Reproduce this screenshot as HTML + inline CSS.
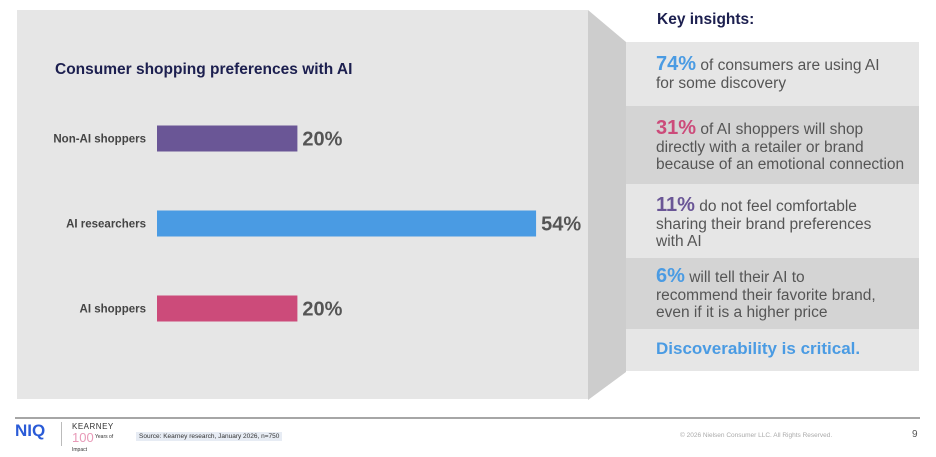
<!DOCTYPE html>
<html><head><meta charset="utf-8"><style>
body{margin:0;width:936px;height:454px;background:#fff;font-family:"Liberation Sans",Arial,sans-serif;position:relative;overflow:hidden}
.abs{position:absolute}
.row{position:absolute;left:626px;width:293px;color:#555;font-size:15.5px;line-height:17.5px;box-sizing:border-box;padding-left:30px;white-space:nowrap}
.big{font-size:20px;font-weight:bold}
</style></head><body>
<div class="abs" style="left:17px;top:10px;width:571px;height:389px;background:#e6e6e6"></div>
<svg class="abs" style="left:0;top:0" width="936" height="454">
<polygon points="588,10 626,42 626,372 588,400" fill="#cdcdcd"/>
</svg>
<div class="abs" style="left:55px;top:61px;font-size:15.5px;font-weight:bold;color:#1c1f4f">Consumer shopping preferences with AI</div>
<svg id="chart" class="abs" style="left:0;top:0" width="600" height="400"></svg>
<script>
const categories=["Non-AI shoppers","AI researchers","AI shoppers"];
const values=[20,54,20];
const colors=["#6a5696","#4a9be3","#cc4b7a"];
const svg=document.getElementById('chart');
const ns="http://www.w3.org/2000/svg";
const x0=157,pxPer=7.02;
function xs(v){return x0+v*pxPer;}
function yc(i){return 138.5+i*85;}
categories.forEach((c,i)=>{
 const r=document.createElementNS(ns,'rect');
 r.setAttribute('x',x0);r.setAttribute('y',yc(i)-13);r.setAttribute('width',xs(values[i])-x0);r.setAttribute('height',26);r.setAttribute('fill',colors[i]);
 
 
 svg.appendChild(r);
 const l=document.createElementNS(ns,'text');
 l.setAttribute('x',146);l.setAttribute('y',yc(i)+4);l.setAttribute('text-anchor','end');l.setAttribute('font-size','11.5');l.setAttribute('font-weight','bold');l.setAttribute('fill','#444');l.textContent=c;
 
 
 svg.appendChild(l);
 const v=document.createElementNS(ns,'text');
 v.setAttribute('x',xs(values[i])+5);v.setAttribute('y',yc(i)+7);v.setAttribute('font-size','20');v.setAttribute('font-weight','bold');v.setAttribute('fill','#555');v.textContent=values[i]+'%';
 
 
 svg.appendChild(v);
});
</script>
<div class="abs" style="left:657px;top:11px;font-size:15.5px;font-weight:bold;color:#1c1f4f">Key insights:</div>
<div class="row" style="top:42px;height:64px;background:#e6e6e6;padding-top:14px"><span class="big" style="color:#4a9be3">74%</span> of consumers are using AI<br>for some discovery</div>
<div class="row" style="top:106px;height:78px;background:#d4d4d4;padding-top:14px"><span class="big" style="color:#cc4b7a">31%</span> of AI shoppers will shop<br>directly with a retailer or brand<br>because of an emotional connection</div>
<div class="row" style="top:184px;height:74px;background:#e6e6e6;padding-top:13px"><span class="big" style="color:#6a5696">11%</span> do not feel comfortable<br>sharing their brand preferences<br>with AI</div>
<div class="row" style="top:258px;height:71px;background:#d4d4d4;padding-top:10px"><span class="big" style="color:#4a9be3">6%</span> will tell their AI to<br>recommend their favorite brand,<br>even if it is a higher price</div>
<div class="row" style="top:329px;height:42px;background:#e6e6e6;padding-top:11px"><span style="font-size:17px;font-weight:bold;color:#4a9be3">Discoverability is critical.</span></div>
<div class="abs" style="left:15px;top:417px;width:905px;height:2px;background:#a6a6a6"></div>
<div class="abs" style="left:15px;top:421px;font-size:17px;font-weight:bold;color:#2a5bd7">NIQ</div>
<div class="abs" style="left:61px;top:422px;width:1px;height:24px;background:#bbb"></div>
<div class="abs" style="left:72px;top:422px;font-size:8px;color:#333;letter-spacing:0.5px">KEARNEY</div>
<div class="abs" style="left:72px;top:431px;font-size:13px;color:#e89ab8;line-height:13px">100<span style="font-size:5px;color:#333;vertical-align:top"> Years of<br>Impact</span></div>
<div class="abs" style="left:136px;top:432px;font-size:6.5px;color:#333;background:#e7ecf4;padding:1px 3px">Source: Kearney research, January 2026, n=750</div>
<div class="abs" style="left:680px;top:432px;font-size:6.5px;color:#aaa">© 2026 Nielsen Consumer LLC. All Rights Reserved.</div>
<div class="abs" style="left:912px;top:429px;font-size:10px;color:#555">9</div>
</body></html>
